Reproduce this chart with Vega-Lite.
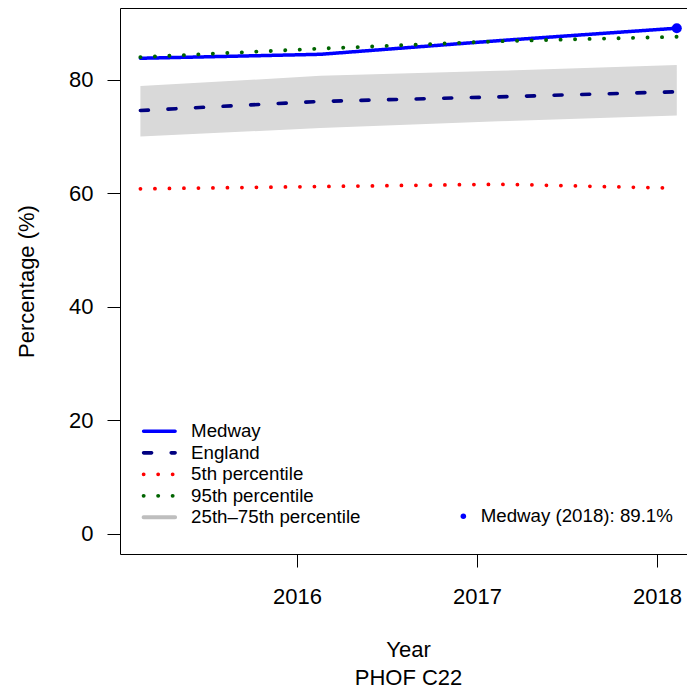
{
  "$schema": "https://vega.github.io/schema/vega-lite/v6.json",
  "autosize": {"type": "none"},
  "padding": {"left": 120, "top": 8, "right": 0, "bottom": 135},
  "width": 567,
  "height": 546,
  "background": "white",
  "config": {
    "view": {"stroke": null},
    "font": "Liberation Sans",
    "axis": {
      "grid": false,
      "domainColor": "black",
      "domainWidth": 1,
      "tickColor": "black",
      "tickWidth": 1,
      "labelColor": "black",
      "titleColor": "black",
      "titleFontWeight": "normal",
      "labelFont": "Liberation Sans",
      "titleFont": "Liberation Sans",
      "labelFontSize": 22,
      "titleFontSize": 22
    },
    "legend": {
      "labelFont": "Liberation Sans",
      "labelColor": "black",
      "padding": 0
    }
  },
  "datasets": {
    "series": [
      {"series": "Medway", "year": 2015.13, "value": 83.8},
      {"series": "Medway", "year": 2016.13, "value": 84.5},
      {"series": "Medway", "year": 2017.12, "value": 86.9},
      {"series": "Medway", "year": 2018.11, "value": 89.1},
      {"series": "England", "year": 2015.13, "value": 74.6},
      {"series": "England", "year": 2016.13, "value": 76.2},
      {"series": "England", "year": 2017.12, "value": 77.0},
      {"series": "England", "year": 2018.11, "value": 77.9},
      {"series": "5th percentile", "year": 2015.13, "value": 60.8},
      {"series": "5th percentile", "year": 2016.13, "value": 61.2},
      {"series": "5th percentile", "year": 2017.12, "value": 61.6},
      {"series": "5th percentile", "year": 2018.11, "value": 60.9},
      {"series": "95th percentile", "year": 2015.13, "value": 84.0},
      {"series": "95th percentile", "year": 2016.13, "value": 85.5},
      {"series": "95th percentile", "year": 2017.12, "value": 86.8},
      {"series": "95th percentile", "year": 2018.11, "value": 87.6}
    ],
    "band": [
      {"year": 2015.13, "q25": 70.0, "q75": 78.9},
      {"year": 2016.13, "q25": 71.5, "q75": 80.7},
      {"year": 2017.12, "q25": 72.7, "q75": 81.6},
      {"year": 2018.11, "q25": 73.7, "q75": 82.6}
    ],
    "latest": [
      {"year": 2018.11, "value": 89.1, "label": "Medway (2018): 89.1%"}
    ]
  },
  "resolve": {"axis": {"x": "independent"}},
  "layer": [
    {
      "data": {"name": "band"},
      "mark": {"type": "area", "color": "#d9d9d9", "opacity": 1},
      "encoding": {
        "x": {
          "field": "year", "type": "quantitative",
          "scale": {"domain": [2015.0167, 2018.1667], "nice": false, "zero": false},
          "axis": {
            "orient": "bottom", "values": [2016, 2017, 2018], "format": "d",
            "tickSize": 13, "labelPadding": 19,
            "title": ["Year", "PHOF C22"], "titleLineHeight": 28.3,
            "titleX": 288, "titleY": 85, "titleAlign": "center", "titleBaseline": "top"
          }
        },
        "y": {
          "field": "q25", "type": "quantitative",
          "scale": {"domain": [-3.56, 92.66], "nice": false, "zero": false},
          "axis": {
            "values": [0, 20, 40, 60, 80], "tickSize": 13, "labelPadding": 14,
            "title": "Percentage (%)", "titleX": -87, "titleY": 273,
            "titleAlign": "center", "titleBaseline": "alphabetic", "titleAngle": -90
          }
        },
        "y2": {"field": "q75"}
      }
    },
    {
      "data": {"name": "series"},
      "mark": {"type": "line", "strokeCap": "round", "strokeJoin": "round"},
      "encoding": {
        "x": {
          "field": "year", "type": "quantitative",
          "scale": {"domain": [2015.0167, 2018.1667], "nice": false, "zero": false},
          "axis": {"orient": "top", "labels": false, "ticks": false, "title": null, "domain": true}
        },
        "y": {
          "field": "value", "type": "quantitative",
          "scale": {"domain": [-3.56, 92.66], "nice": false, "zero": false},
          "axis": {
            "values": [0, 20, 40, 60, 80], "tickSize": 13, "labelPadding": 14,
            "title": "Percentage (%)", "titleX": -87, "titleY": 273,
            "titleAlign": "center", "titleBaseline": "alphabetic", "titleAngle": -90
          }
        },
        "color": {
          "field": "series", "type": "nominal",
          "scale": {
            "domain": ["Medway", "England", "5th percentile", "95th percentile", "25th–75th percentile"],
            "range": ["#0000ff", "#000080", "#ff0000", "#006400", "#bebebe"]
          },
          "legend": {
            "orient": "none", "legendX": 30, "legendY": 414, "title": null,
            "symbolType": "M-3.15,0H3.15", "symbolSize": 100, "labelFontSize": 18.7,
            "labelOffset": 22.4, "rowPadding": 1.5, "labelLimit": 400,
            "encode": {
              "symbols": {"update": {"strokeCap": {"value": "round"}, "fill": {"value": "transparent"}}}
            }
          }
        },
        "strokeDash": {
          "field": "series", "type": "nominal",
          "scale": {
            "domain": ["Medway", "England", "5th percentile", "95th percentile", "25th–75th percentile"],
            "range": [[1, 0], [8, 19.6], [0.1, 14.4], [0.1, 14.4], [1, 0]]
          },
          "legend": {
            "orient": "none", "legendX": 30, "legendY": 414, "title": null,
            "symbolType": "M-3.15,0H3.15", "symbolSize": 100, "labelFontSize": 18.7,
            "labelOffset": 22.4, "rowPadding": 1.5, "labelLimit": 400,
            "encode": {
              "symbols": {"update": {"strokeCap": {"value": "round"}, "fill": {"value": "transparent"}}}
            }
          }
        },
        "strokeWidth": {
          "field": "series", "type": "nominal",
          "scale": {
            "domain": ["Medway", "England", "5th percentile", "95th percentile", "25th–75th percentile"],
            "range": [3.5, 4, 3.3, 3.3, 8]
          },
          "legend": {
            "orient": "none", "legendX": 30, "legendY": 414, "title": null,
            "symbolType": "M-3.15,0H3.15", "symbolSize": 100, "labelFontSize": 18.7,
            "labelOffset": 22.4, "rowPadding": 1.5, "labelLimit": 400,
            "encode": {
              "symbols": {"update": {"strokeCap": {"value": "round"}, "fill": {"value": "transparent"}}}
            }
          }
        }
      }
    },
    {
      "data": {"name": "latest"},
      "mark": {"type": "point", "filled": true, "color": "#0000ff", "opacity": 1, "size": 100},
      "encoding": {
        "x": {
          "field": "year", "type": "quantitative",
          "scale": {"domain": [2015.0167, 2018.1667], "nice": false, "zero": false},
          "axis": null
        },
        "y": {
          "field": "value", "type": "quantitative",
          "scale": {"domain": [-3.56, 92.66], "nice": false, "zero": false},
          "axis": {
            "values": [0, 20, 40, 60, 80], "tickSize": 13, "labelPadding": 14,
            "title": "Percentage (%)", "titleX": -87, "titleY": 273,
            "titleAlign": "center", "titleBaseline": "alphabetic", "titleAngle": -90
          }
        },
        "shape": {
          "field": "label", "type": "nominal",
          "scale": {"range": ["circle"]},
          "legend": {
            "orient": "none", "legendX": 334, "legendY": 499, "title": null,
            "symbolSize": 30, "symbolFillColor": "#0000ff", "symbolStrokeWidth": 0,
            "labelFontSize": 18.7, "labelOffset": 8, "labelLimit": 400
          }
        }
      }
    }
  ]
}
